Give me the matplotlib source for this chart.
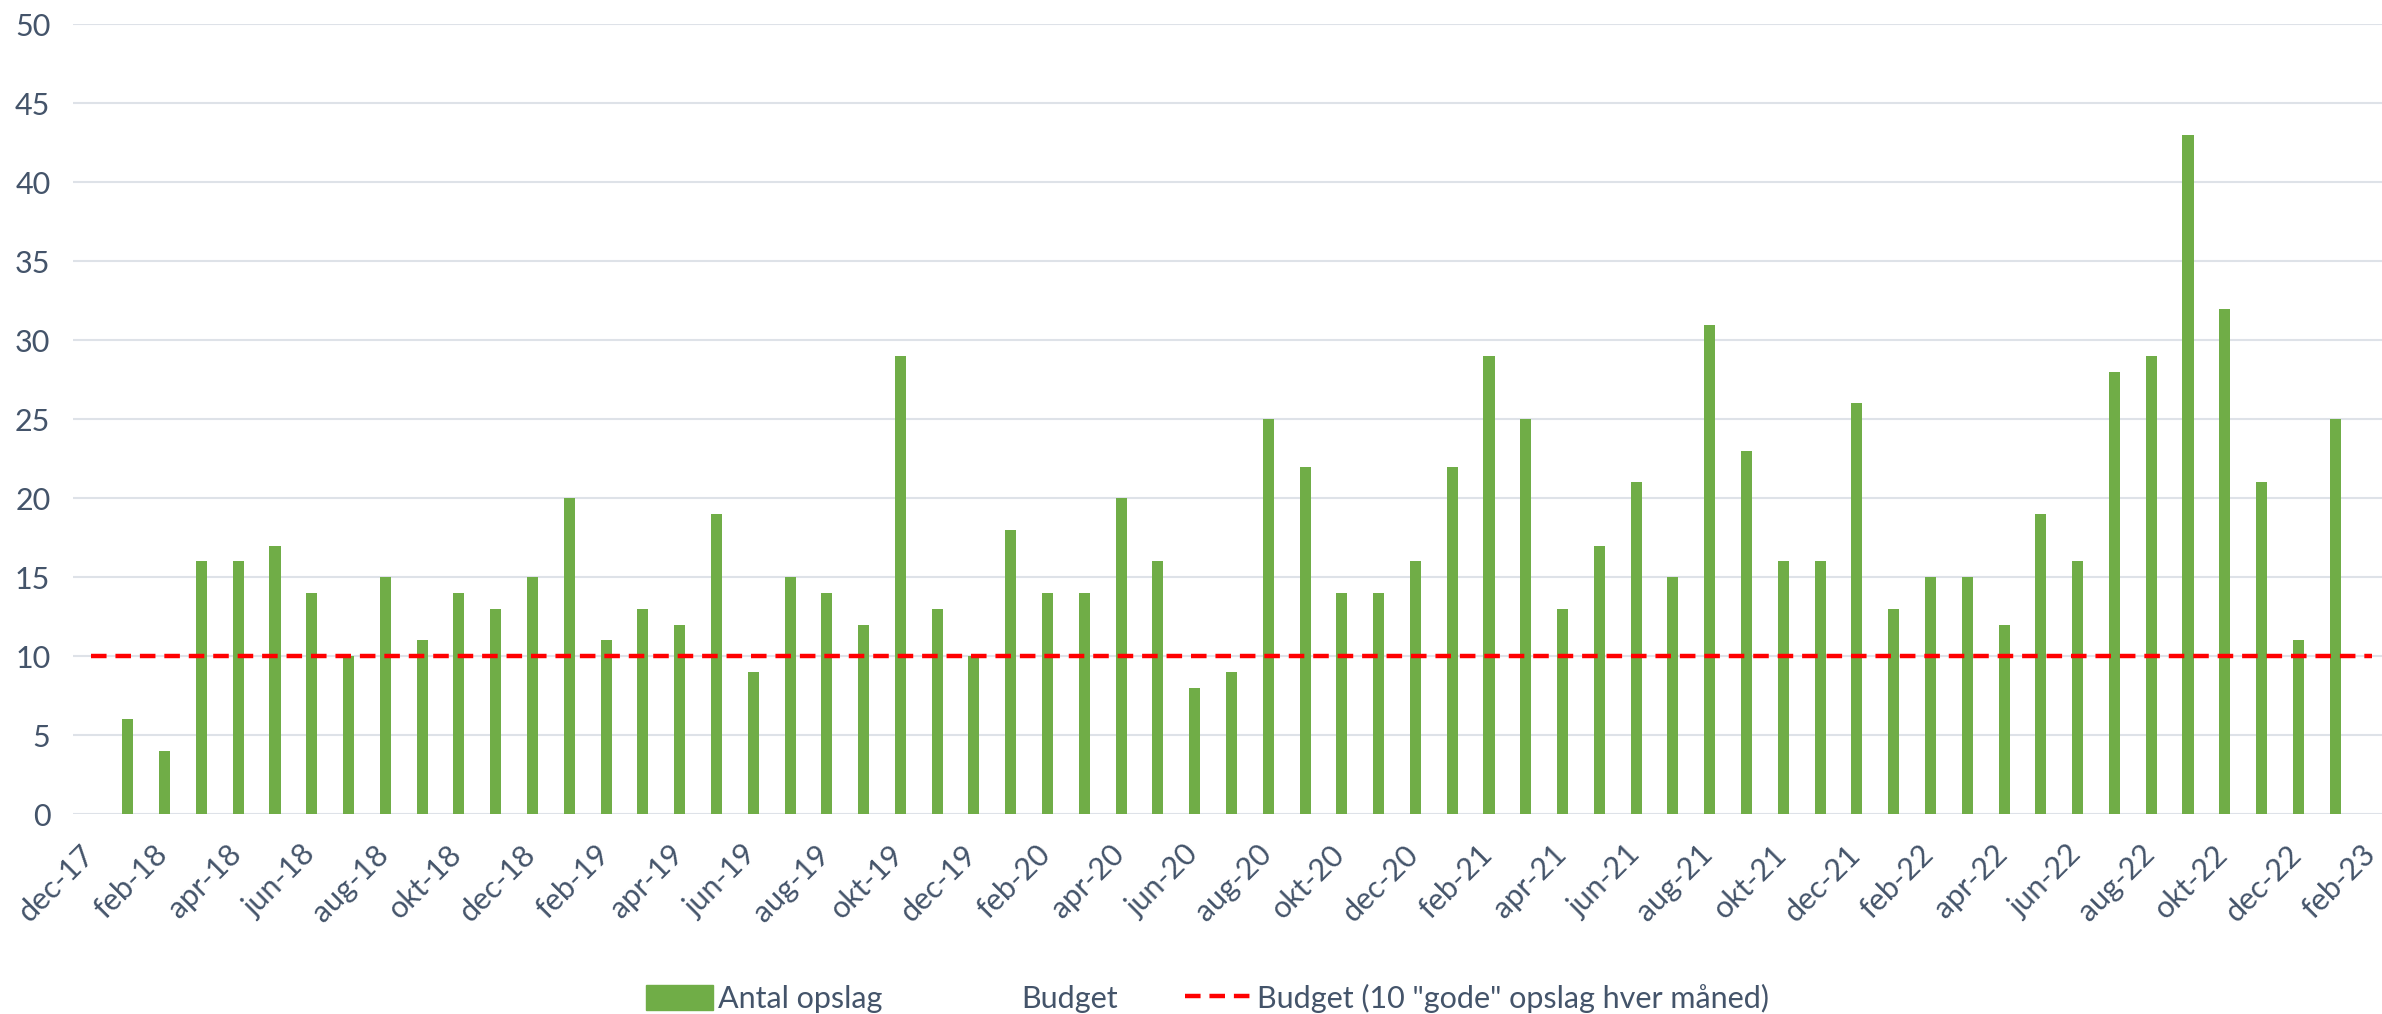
import numpy as np
import matplotlib.pyplot as plt
from matplotlib.lines import Line2D
from matplotlib.patches import Patch
import matplotlib.transforms as mtransforms

# months dec-17 .. feb-23 (danish abbreviations)
month_names = ['jan', 'feb', 'mar', 'apr', 'maj', 'jun', 'jul', 'aug', 'sep', 'okt', 'nov', 'dec']
months = ['dec-17']
for yr in range(18, 23):
    for m in month_names:
        months.append('%s-%d' % (m, yr))
months += ['jan-23', 'feb-23']

# antal opslag per month (no bar for dec-17 and feb-23)
posts_2018 = [6, 4, 16, 16, 17, 14, 10, 15, 11, 14, 13, 15]
posts_2019 = [20, 11, 13, 12, 19, 9, 15, 14, 12, 29, 13, 10]
posts_2020 = [18, 14, 14, 20, 16, 8, 9, 25, 22, 14, 14, 16]
posts_2021 = [22, 29, 25, 13, 17, 21, 15, 31, 23, 16, 16, 26]
posts_2022 = [13, 15, 15, 12, 19, 16, 28, 29, 43, 32, 21, 11]
posts_2023 = [25, np.nan]
posts = [np.nan] + posts_2018 + posts_2019 + posts_2020 + posts_2021 + posts_2022 + posts_2023

budget_value = 10
yticks = [0, 5, 10, 15, 20, 25, 30, 35, 40, 45, 50]

text_col = '#44546A'
green = '#70AD47'
red = '#FF0000'
grid_col = '#DEE2E8'

plt.rcParams['font.family'] = ['Lato', 'DejaVu Sans']

fig = plt.figure(figsize=(23.82, 10.14), dpi=100)
ax = fig.add_axes([0.0305, 0.197, 0.973, 0.779])

x = np.arange(len(months))
ax.bar(x, posts, width=0.3, color=green, zorder=3)
ax.plot(x, [budget_value] * len(months), color=red, lw=3.2, dashes=(3.5, 2), zorder=4)

ax.set_xlim(-0.5, len(months) - 0.5)
ax.set_ylim(0, 50)
ax.set_yticks(yticks)
ax.grid(axis='y', color=grid_col, lw=1.5, zorder=0)
for s in ax.spines.values():
    s.set_visible(False)
ax.tick_params(axis='both', length=0, labelsize=22, colors=text_col)
ax.tick_params(axis='y', pad=16)

# rotated month labels, baseline end just right of the category centre
ax.set_xticks(x[::2])
ax.set_xticklabels(months[::2], rotation=45, ha='right', va='baseline', rotation_mode='anchor')
offset = mtransforms.ScaledTranslation(5 / 100, -37 / 100, fig.dpi_scale_trans)
for lab in ax.get_xticklabels():
    lab.set_transform(lab.get_transform() + offset)

handles = [Patch(color=green),
           Line2D([], [], color='none'),
           Line2D([], [], color=red, lw=3.2, dashes=(3.5, 2))]
labels = ['Antal opslag', 'Budget', 'Budget (10 "gode" opslag hver måned)']
leg = fig.legend(handles, labels, loc='lower center', bbox_to_anchor=(0.507, -0.026), ncol=3,
                 frameon=False, fontsize=22, labelcolor=text_col, handlelength=2.2,
                 handleheight=0.9, columnspacing=2.2, handletextpad=0.15)

fig.savefig('out.png', dpi=100)
